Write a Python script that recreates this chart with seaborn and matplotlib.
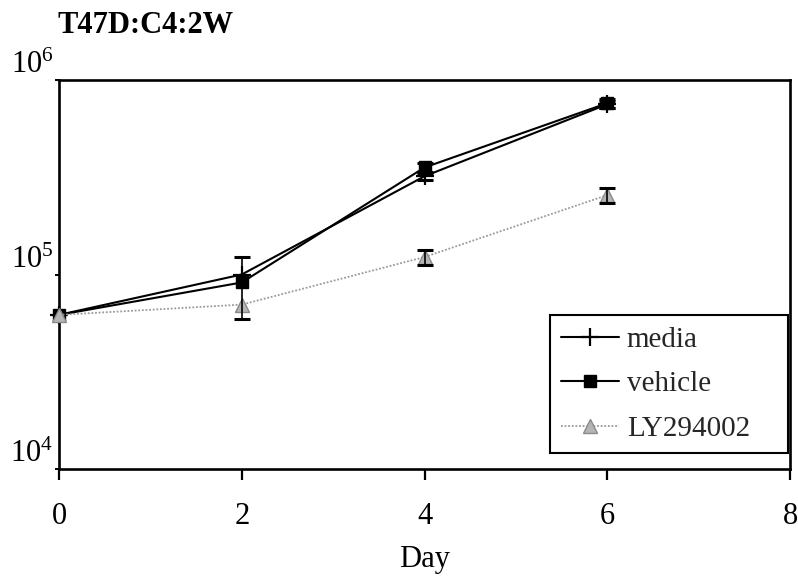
import numpy as np
import pandas as pd
import matplotlib
matplotlib.use("Agg")
import matplotlib.pyplot as plt
import seaborn as sns
from matplotlib.ticker import FixedLocator, NullLocator, LogFormatterSciNotation

# ---- data ----
days = [0, 2, 4, 6]
media = [6.2e4, 1.0e5, 3.2e5, 7.5e5]
vehicle = [6.2e4, 9.1e4, 3.55e5, 7.6e5]
ly294002 = [6.2e4, 7.0e4, 1.23e5, 2.56e5]
media_err = [0, 0, 1.4e4, 3.0e4]
vehicle_err = [0, 3.2e4, 2.0e4, 4.0e4]
ly_err = [0, 0, 1.1e4, 2.4e4]
series_names = ["media", "vehicle", "LY294002"]
x_ticks = [0, 2, 4, 6, 8]
y_ticks = [1e4, 1e5, 1e6]
title = "T47D:C4:2W"
x_label = "Day"

sns.set_style("ticks")
plt.rcParams["font.family"] = ["Liberation Serif", "DejaVu Serif"]
plt.rcParams["mathtext.fontset"] = "custom"
plt.rcParams["mathtext.rm"] = "Liberation Serif"
plt.rcParams["mathtext.it"] = "Liberation Serif:italic"
plt.rcParams["mathtext.bf"] = "Liberation Serif:bold"

W, H = 798, 579
fig = plt.figure(figsize=(W / 100, H / 100), dpi=100)
L, R, T, B = 59, 790, 80, 469
ax = fig.add_axes([L / W, 1 - B / H, (R - L) / W, (B - T) / H])

styles = {
    "media": dict(color="black", marker="+", markersize=13, mec="black", mew=1.6,
                  linewidth=1.5, linestyle="-"),
    "vehicle": dict(color="black", marker="s", markersize=9, mec="black", mew=1.0,
                    linewidth=1.5, linestyle="-"),
    "LY294002": dict(color="#9a9a9a", marker="^", markersize=10, mec="#8a8a8a",
                     mfc="#b5b5b5", mew=1.0, linewidth=1.3, linestyle=(0, (1, 1))),
}
values = {"media": media, "vehicle": vehicle, "LY294002": ly294002}
errors = {"media": media_err, "vehicle": vehicle_err, "LY294002": ly_err}

for name in series_names:
    st = styles[name]
    sns.lineplot(x=days, y=values[name], ax=ax, label=name, clip_on=False,
                 zorder=3, **st)
    d = np.array(days, dtype=float)
    v = np.array(values[name], dtype=float)
    e = np.array(errors[name], dtype=float)
    m = e > 0
    ax.errorbar(d[m], v[m], yerr=e[m], fmt="none", ecolor="black",
                elinewidth=1.2, capsize=6, capthick=2.2, zorder=4)

ax.set_yscale("log")
ax.set_xlim(0, 8)
ax.set_ylim(1e4, 1e6)
ax.xaxis.set_major_locator(FixedLocator(x_ticks))
ax.yaxis.set_major_locator(FixedLocator(y_ticks))
ax.yaxis.set_major_formatter(LogFormatterSciNotation())
ax.yaxis.set_minor_locator(NullLocator())
ax.set_xticklabels([str(t) for t in x_ticks])

for sp in ax.spines.values():
    sp.set_visible(True)
    sp.set_color("black")
    sp.set_linewidth(1.9)

ax.tick_params(axis="x", direction="out", length=8, width=1.6, pad=16,
               labelsize=22, colors="black")
ax.tick_params(axis="y", direction="out", length=3, width=1.4, pad=1,
               labelsize=22, colors="black")
for lbl in ax.get_yticklabels():
    lbl.set_verticalalignment("bottom")

ax.set_xlabel(x_label, fontsize=22, labelpad=10, color="black")
ax.set_ylabel("")

x0 = (550 - L) / (R - L)
w = (788 - 550) / (R - L)
y0 = (B - 453) / (B - T)
h = (453 - 308) / (B - T)
leg = ax.legend(loc="lower left", bbox_to_anchor=(x0, y0, w, h), mode="expand",
                borderaxespad=0, frameon=True, fancybox=False, edgecolor="black",
                framealpha=1, fontsize=21, handlelength=2.0, handletextpad=0.25,
                labelspacing=0.62, borderpad=0.38)
leg.get_frame().set_linewidth(1.5)

fig.text(57 / W, 1 - 33 / H, title, fontsize=22, fontweight="bold",
         ha="left", va="baseline", color="black")

fig.savefig("out.png", dpi=100)
